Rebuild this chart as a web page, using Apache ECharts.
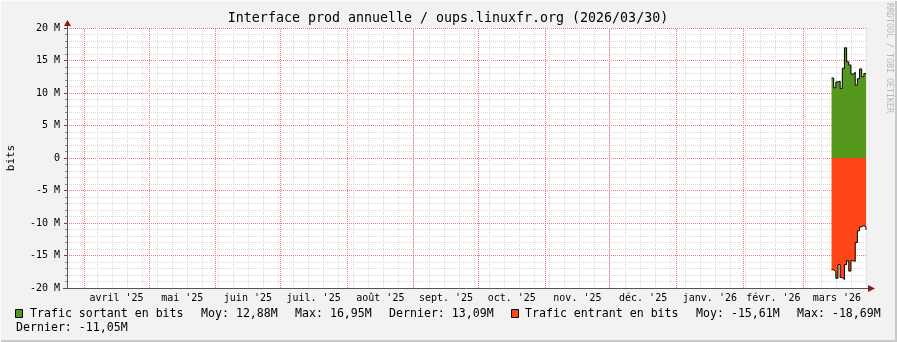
<!DOCTYPE html>
<html><head><meta charset="utf-8">
<script src="https://cdn.jsdelivr.net/npm/echarts@6/dist/echarts.min.js"></script>
<style>html,body{margin:0;padding:0;background:#f2f2f2}#c{width:897px;height:342px}</style>
</head><body><div id="c"></div>
<script>
// ---- data ----
const dates = ['2026-03-14','2026-03-15','2026-03-16','2026-03-17','2026-03-18','2026-03-19','2026-03-20','2026-03-21','2026-03-22','2026-03-23','2026-03-24','2026-03-25','2026-03-26','2026-03-27','2026-03-28','2026-03-29','2026-03-30'];
const outgoing = [12.3, 10.8, 11.7, 11.8, 10.7, 13.8, 16.95, 14.8, 14.3, 12.9, 13.2, 11.2, 12.2, 13.7, 12.5, 13.0, 13.09];
const incoming = [-17.2, -17.5, -18.5, -16.4, -18.4, -18.69, -16.4, -15.8, -17.4, -15.8, -15.9, -13.0, -11.2, -10.6, -10.4, -10.6, -11.05];
const monthKeys = ['2025-04-01','2025-05-01','2025-06-01','2025-07-01','2025-08-01','2025-09-01','2025-10-01','2025-11-01','2025-12-01','2026-01-01','2026-02-01','2026-03-01','2026-04-01'];
const monthLabels = ["avril '25","mai '25","juin '25","juil. '25","août '25","sept. '25","oct. '25","nov. '25","déc. '25","janv. '26","févr. '26","mars '26"];
const rangeStart = '2025-03-24', rangeEnd = '2026-03-30';
const yMin = -20, yMax = 20, yStep = 5;
const titleText = 'Interface prod annuelle / oups.linuxfr.org (2026/03/30)';
const seriesNames = ['Trafic sortant en bits', 'Trafic entrant en bits'];
const statsOut = ['Moy: 12,88M', 'Max: 16,95M', 'Dernier: 13,09M'];
const statsIn = ['Moy: -15,61M', 'Max: -18,69M', 'Dernier: -11,05M'];

// ---- helpers: day offsets from range start ----
const DAY = 86400000;
const T0 = Date.parse(rangeStart);
const dayOf = s => (Date.parse(s) - T0) / DAY;
const SPAN_DAYS = dayOf(rangeEnd);
const monthStarts = monthKeys.slice(0, -1).map(dayOf);
const monthBounds = monthKeys.map(dayOf);
const monthMids = monthLabels.map((_, i) => (monthBounds[i] + monthBounds[i + 1]) / 2);
const labelOf = v => { const i = monthMids.findIndex(m => Math.abs(m - v) < 1e-6); return i < 0 ? '' : monthLabels[i]; };

// ---- style ----
const MONO = "'DejaVu Sans Mono', monospace";
const GREEN = '#55981d';
const RED = '#ff4516';
const GRID_L = 67, GRID_R = 866, GRID_T = 28, GRID_B = 288;
const MINOR = '#d9d9d9';
const MAJOR = '#f07a7a';
const majorLine = { color: MAJOR, type: [1, 1], width: 1 };

const chart = echarts.init(document.getElementById('c'));
const txt = (x, y, s) => ({ type: 'text', x, y, silent: true,
  style: { text: s, font: '11.6px ' + MONO, fill: '#000', textVerticalAlign: 'middle' } });

const option = {
  backgroundColor: '#f2f2f2',
  animation: false,
  grid: { left: GRID_L, right: 897 - GRID_R, top: GRID_T, bottom: 342 - GRID_B, containLabel: false, outerBoundsMode: 'none',
    show: true, backgroundColor: '#ffffff', borderWidth: 0 },
  xAxis: [
    { type: 'value', min: 0, max: SPAN_DAYS, interval: 7, position: 'top',
      axisLine: { show: false }, axisTick: { show: false }, axisLabel: { show: false },
      splitLine: { show: true, lineStyle: { color: MINOR, type: [1, 1], width: 1 } } },
    { type: 'value', min: 0, max: SPAN_DAYS, position: 'bottom',
      axisLine: { show: true, onZero: false, lineStyle: { color: '#555', width: 1 } },
      axisTick: { show: false },
      axisLabel: { show: true, interval: 0, customValues: monthMids, margin: 5, formatter: labelOf,
        fontFamily: MONO, fontSize: 10, color: '#000' },
      splitLine: { show: false } }
  ],
  yAxis: {
    type: 'value', min: yMin, max: yMax, interval: yStep,
    name: 'bits', nameLocation: 'middle', nameGap: 50,
    nameTextStyle: { fontFamily: MONO, fontSize: 11, color: '#000' },
    axisLine: { show: true, onZero: false, lineStyle: { color: '#555', width: 1 } },
    axisTick: { show: true, length: 3, lineStyle: { color: '#555' } },
    minorTick: { show: true, splitNumber: 5, length: 2, lineStyle: { color: '#888' } },
    axisLabel: { fontFamily: MONO, fontSize: 10, color: '#000', margin: 7,
      formatter: v => v === 0 ? '0' : v + ' M' },
    splitLine: { show: true, lineStyle: majorLine },
    minorSplitLine: { show: true, lineStyle: { color: MINOR, type: [1, 1], width: 1 } }
  },
  series: [
    { name: 'months', type: 'line', xAxisIndex: 1, data: [], z: 1, silent: true, color: MAJOR,
      itemStyle: { color: MAJOR }, lineStyle: { color: MAJOR },
      markLine: { silent: true, symbol: ['none', 'none'], label: { show: false }, animation: false,
        itemStyle: { color: MAJOR }, lineStyle: majorLine,
        data: monthStarts.map(d => ({ xAxis: d, lineStyle: majorLine })) } },
    { name: seriesNames[0], type: 'line', xAxisIndex: 1, step: 'end', symbol: 'none', z: 3,
      data: dates.map((d, i) => [dayOf(d), outgoing[i]]),
      lineStyle: { color: '#000', width: 1 }, itemStyle: { color: GREEN },
      areaStyle: { color: GREEN, opacity: 1 } },
    { name: seriesNames[1], type: 'line', xAxisIndex: 1, step: 'end', symbol: 'none', z: 3,
      data: dates.map((d, i) => [dayOf(d), incoming[i]]),
      lineStyle: { color: '#000', width: 1 }, itemStyle: { color: RED },
      areaStyle: { color: RED, opacity: 1 } }
  ],
  graphic: [
    { type: 'rect', shape: { x: 0, y: 340, width: 897, height: 2 }, style: { fill: '#c8c8c8' }, silent: true },
    { type: 'rect', shape: { x: 895, y: 0, width: 2, height: 342 }, style: { fill: '#c8c8c8' }, silent: true },
    { type: 'rect', shape: { x: 0, y: 0, width: 897, height: 1 }, style: { fill: '#fbfbfb' }, silent: true },
    { type: 'rect', shape: { x: 0, y: 0, width: 1, height: 342 }, style: { fill: '#fbfbfb' }, silent: true },
    { type: 'text', x: 448, y: 19, silent: true,
      style: { text: titleText, font: '13.3px ' + MONO, fill: '#000', textAlign: 'center', textVerticalAlign: 'middle' } },
    { type: 'text', x: 889, y: 58, rotation: -Math.PI / 2, silent: true,
      style: { text: 'RRDTOOL / TOBI OETIKER', font: '8.3px ' + MONO, fill: '#b8b8b8', textAlign: 'center', textVerticalAlign: 'middle' } },
    { type: 'line', shape: { x1: 67.5, y1: GRID_T, x2: 67.5, y2: 24 }, style: { stroke: '#555', lineWidth: 1 }, silent: true },
    { type: 'polygon', shape: { points: [[67.5, 20], [64, 26], [71, 26]] }, style: { fill: '#8b1a1a' }, silent: true },
    { type: 'line', shape: { x1: GRID_R, y1: 288.5, x2: 869, y2: 288.5 }, style: { stroke: '#555', lineWidth: 1 }, silent: true },
    { type: 'polygon', shape: { points: [[875, 288.5], [868, 285], [868, 292]] }, style: { fill: '#8b1a1a' }, silent: true },
    { type: 'line', shape: { x1: 63, y1: 288.5, x2: 67, y2: 288.5 }, style: { stroke: '#555', lineWidth: 1 }, silent: true },
    { type: 'rect', shape: { x: 15.5, y: 309.5, width: 7, height: 8 }, style: { fill: GREEN, stroke: '#000', lineWidth: 1 }, silent: true },
    txt(30, 314, seriesNames[0]),
    txt(201, 314, statsOut[0]),
    txt(295, 314, statsOut[1]),
    txt(389, 314, statsOut[2]),
    { type: 'rect', shape: { x: 511.5, y: 309.5, width: 7, height: 8 }, style: { fill: RED, stroke: '#000', lineWidth: 1 }, silent: true },
    txt(525, 314, seriesNames[1]),
    txt(696, 314, statsIn[0]),
    txt(797, 314, statsIn[1]),
    txt(16, 327.5, statsIn[2])
  ]
};
chart.setOption(option);
</script></body></html>
